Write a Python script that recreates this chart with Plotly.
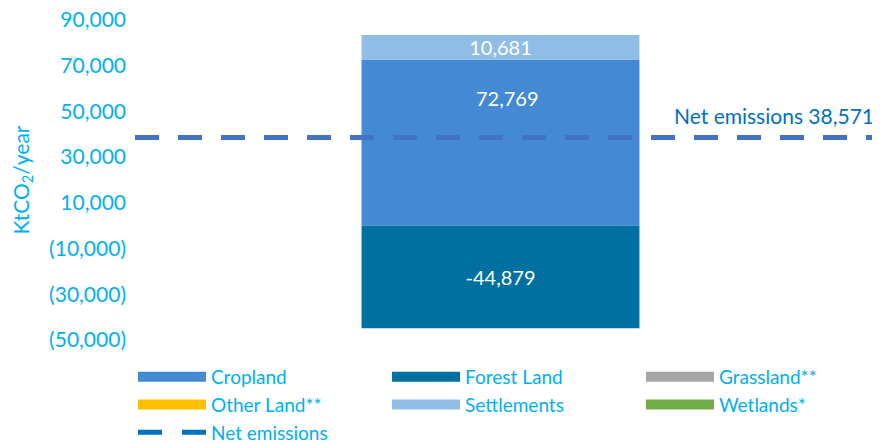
import plotly.graph_objects as go

# land use categories and their net emissions (ktCO2/year)
categories = ["Cropland", "Forest Land", "Grassland**", "Other Land**", "Settlements", "Wetlands*"]
values = [72769, -44879, 0, 0, 10681, 0]
colors = ["#4389D3", "#0070A0", "#A5A5A5", "#FFC000", "#90BDE6", "#70AD47"]
labels = ["72,769", "-44,879", None, None, "10,681", None]
# legend column each category goes into (Excel lays legend out row by row)
legend_ids = ["legend", "legend2", "legend3", "legend", "legend2", "legend3"]

net_value = sum(values)
net_label = "Net emissions 38,571"

tick_vals = [-50000, -30000, -10000, 10000, 30000, 50000, 70000, 90000]
tick_text = ["(50,000)", "(30,000)", "(10,000)", "10,000", "30,000", "50,000", "70,000", "90,000"]

FONT = "Lato"
TICK_COL = "#00B0F0"

fig = go.Figure()

for name, val, col, lab, leg in zip(categories, values, colors, labels, legend_ids):
    show_text = lab if (lab and name != "Cropland") else None
    fig.add_trace(go.Bar(
        x=[""], y=[val], name=name, marker_color=col, marker_line_width=0,
        text=[show_text] if show_text else None, textposition="inside",
        insidetextanchor="middle", constraintext="none",
        textfont=dict(color="white", size=20, family=FONT),
        showlegend=False, hoverinfo="name+y",
    ))
    # legend swatch drawn as thick line
    fig.add_trace(go.Scatter(
        x=[None], y=[None], xaxis="x2", mode="lines", name=name, legend=leg,
        line=dict(color=col, width=12), showlegend=True,
    ))

# net emissions line across the whole plot
fig.add_trace(go.Scatter(
    x=[0, 1], y=[net_value, net_value], xaxis="x2", mode="lines",
    line=dict(color="#4472C4", width=5, dash="24px,19px"), showlegend=False,
    hoverinfo="y",
))
fig.add_trace(go.Scatter(
    x=[None], y=[None], xaxis="x2", mode="lines", name="Net emissions", legend="legend",
    line=dict(color="#0070C0", width=5, dash="24px,20px"),
))

# cropland label sits between top of bar and the net line
fig.add_annotation(
    x=0.5, xref="x2", y=(values[0] + net_value) / 2, text=labels[0],
    showarrow=False, font=dict(color="white", size=20, family=FONT),
)
fig.add_annotation(
    x=1, xref="x2", y=net_value, text=net_label, xanchor="right", yanchor="bottom",
    xshift=-4, yshift=8, showarrow=False, font=dict(color="#0070C0", size=21, family=FONT),
)

leg_style = dict(
    orientation="v", xanchor="left", y=-0.0559, yanchor="top",
    itemwidth=68, font=dict(size=19, color=TICK_COL, family=FONT),
    tracegroupgap=0, itemclick=False, bgcolor="rgba(0,0,0,0)", maxheight=200,
)

fig.update_layout(
    width=872, height=435,
    margin=dict(l=127, r=0, t=12, b=103, autoexpand=False),
    paper_bgcolor="white", plot_bgcolor="white",
    barmode="relative", bargap=0.627,
    font=dict(family=FONT, color=TICK_COL),
    xaxis=dict(showticklabels=False, showgrid=False, zeroline=False, showline=False,
               range=[-0.4906, 0.5094]),
    xaxis2=dict(overlaying="x", range=[0, 1], visible=False),
    yaxis=dict(
        range=[-50000, 90000], tickvals=tick_vals, ticktext=tick_text,
        showgrid=False, zeroline=False, showline=False, ticklabelstandoff=8,
        ticklabeloverflow="allow",
        tickfont=dict(size=21, color=TICK_COL, family=FONT),
        title=dict(text="KtCO<sub>2</sub>/year", font=dict(size=21, color=TICK_COL, family=FONT), standoff=16),
    ),
    legend=dict(x=-0.0027, **leg_style),
    legend2=dict(x=0.3383, **leg_style),
    legend3=dict(x=0.6792, **leg_style),
)

fig.write_html("out.html")
